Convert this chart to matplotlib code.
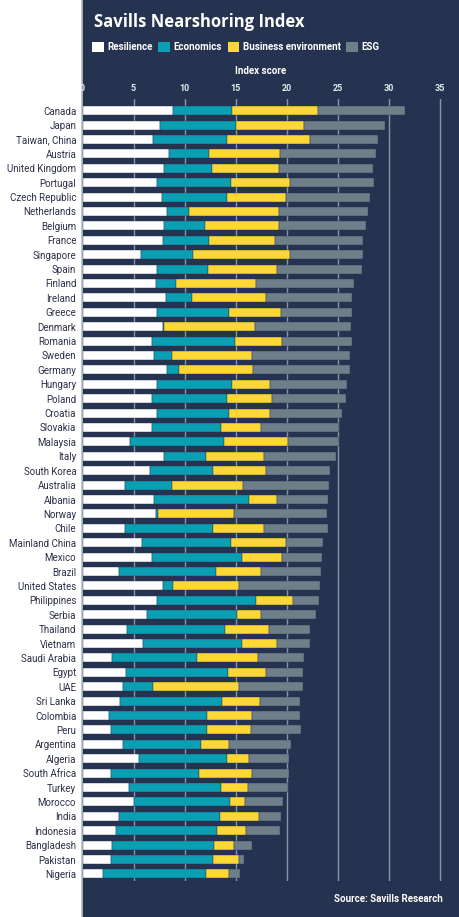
import numpy as np
import matplotlib

matplotlib.use("Agg")
import matplotlib.pyplot as plt
from matplotlib.patches import Patch

plt.rcParams["font.family"] = ["Roboto", "DejaVu Sans"]

countries = [
    "Canada", "Japan", "Taiwan, China", "Austria", "United Kingdom", "Portugal",
    "Czech Republic", "Netherlands", "Belgium", "France", "Singapore", "Spain",
    "Finland", "Ireland", "Greece", "Denmark", "Romania", "Sweden", "Germany",
    "Hungary", "Poland", "Croatia", "Slovakia", "Malaysia", "Italy", "South Korea",
    "Australia", "Albania", "Norway", "Chile", "Mainland China", "Mexico", "Brazil",
    "United States", "Philippines", "Serbia", "Thailand", "Vietnam", "Saudi Arabia",
    "Egypt", "UAE", "Sri Lanka", "Colombia", "Peru", "Argentina", "Algeria",
    "South Africa", "Turkey", "Morocco", "India", "Indonesia", "Bangladesh",
    "Pakistan", "Nigeria",
]

resilience = [
    8.9, 7.6, 6.9, 8.5, 8.0, 7.3, 7.75, 8.3, 8.0, 7.9, 5.7, 7.3,
    7.2, 8.2, 7.3, 7.9, 6.8, 7.05, 8.3, 7.3, 6.8, 7.3, 6.8, 4.7,
    8.0, 6.6, 4.2, 7.05, 7.25, 4.2, 5.85, 6.8, 3.6, 7.9, 7.3, 6.35,
    4.4, 5.95, 2.9, 4.3, 4.0, 3.7, 2.6, 2.8, 4.0, 5.55, 2.8, 4.6,
    5.0, 3.6, 3.3, 2.9, 2.8, 2.05,
]
economics = [
    5.8, 7.4, 7.25, 3.9, 4.7, 7.3, 6.4, 2.1, 4.05, 4.45, 5.1, 5.0,
    2.0, 2.5, 7.1, 0.05, 8.1, 1.7, 1.15, 7.4, 7.4, 7.1, 6.8, 9.2,
    4.1, 6.15, 4.6, 9.3, 0.15, 8.6, 8.7, 8.85, 9.5, 1.0, 9.75, 8.75,
    9.6, 9.7, 8.35, 10.0, 2.9, 10.0, 9.6, 9.45, 7.65, 8.6, 8.6, 9.0,
    9.45, 9.85, 9.9, 10.0, 10.0, 10.05,
]
business = [
    8.4, 6.7, 8.15, 7.0, 6.6, 5.7, 5.8, 8.9, 7.2, 6.5, 9.55, 6.8,
    7.85, 7.3, 5.1, 9.0, 4.7, 7.9, 7.3, 3.7, 4.4, 4.0, 3.85, 6.2,
    5.65, 5.25, 6.9, 2.75, 7.45, 5.0, 5.4, 3.9, 4.4, 6.45, 3.6, 2.35,
    4.3, 3.45, 5.95, 3.7, 8.45, 3.7, 4.4, 4.3, 2.75, 2.15, 5.25, 2.65,
    1.5, 3.85, 2.85, 1.95, 2.5, 2.3,
]
esg = [
    8.5, 7.9, 6.7, 9.35, 9.2, 8.3, 8.2, 8.7, 8.5, 8.6, 7.1, 8.3,
    9.6, 8.45, 6.9, 9.4, 6.8, 9.6, 9.45, 7.5, 7.2, 7.05, 7.65, 5.0,
    7.05, 6.25, 8.45, 5.0, 9.15, 6.25, 3.6, 3.9, 5.85, 7.95, 2.5, 5.4,
    4.0, 3.2, 4.55, 3.6, 6.3, 3.9, 4.7, 4.85, 6.0, 3.9, 3.6, 3.85,
    3.7, 2.2, 3.35, 1.8, 0.55, 1.0,
]

series = {
    "Resilience": resilience,
    "Economics": economics,
    "Business environment": business,
    "ESG": esg,
}
colors = ["#ffffff", "#0b9fb4", "#fdd835", "#6e7f89"]
navy = "#253350"
W, H = 459, 917

fig = plt.figure(figsize=(W / 100, H / 100), dpi=100, facecolor="white")

# navy panel right of the country labels, drawn underneath the chart axes
panel = fig.add_axes([82 / W, 0, 1 - 82 / W, 1], zorder=-1)
panel.set_facecolor(navy)
panel.set_xticks([])
panel.set_yticks([])
for side, spine in panel.spines.items():
    spine.set_visible(side == "left")
panel.spines["left"].set_color("#b9c0ca")
panel.spines["left"].set_linewidth(1.2)

ax = fig.add_axes([82.5 / W, 1 - 881 / H, 1 - 82.5 / W, (881 - 99) / H])
ax.set_facecolor("none")

y = np.arange(len(countries))
left = np.zeros(len(countries))
for (name, values), color in zip(series.items(), colors):
    values = np.asarray(values, dtype=float)
    ax.barh(y, values, left=left, height=0.63, color=color, edgecolor=navy,
            linewidth=0.3, label=name, zorder=2)
    left += values

ax.set_xlim(0, 36.9)
ax.set_ylim(len(countries) - 1 + 0.49, -0.81)
ax.set_xticks(np.arange(0, 36, 5))
ax.xaxis.tick_top()
ax.tick_params(axis="x", length=0, pad=4, labelsize=6.5, labelcolor="#e6e9ee")
for label in ax.get_xticklabels():
    label.set_fontweight("bold")
ax.set_yticks(y)
ax.set_yticklabels(countries)
ax.tick_params(axis="y", length=0, pad=4.5, labelsize=7, labelcolor="#2b3048")
for xv in np.arange(5, 36, 5):
    ax.axvline(xv, color="#8a95a6", linewidth=1, zorder=1)
for spine in ax.spines.values():
    spine.set_visible(False)

fig.text(94 / W, 1 - 22 / H, "Savills Nearshoring Index", color="white",
         fontsize=12, fontweight="bold", family=["Open Sans", "DejaVu Sans"],
         va="center", ha="left")

handles = [Patch(facecolor=c, edgecolor="none") for c in colors]
fig.legend(handles, list(series.keys()), loc="center left",
           bbox_to_anchor=(92 / W, 1 - 47 / H), ncol=4, frameon=False,
           handlelength=1.2, handleheight=1.2, handletextpad=0.35,
           columnspacing=0.6, borderaxespad=0, borderpad=0,
           prop={"size": 7, "weight": "bold"}, labelcolor="white")

fig.text(261 / W, 1 - 71 / H, "Index score", color="white", fontsize=7,
         fontweight="bold", ha="center", va="center")
fig.text(443 / W, 1 - 899 / H, "Source: Savills Research", color="white",
         fontsize=7, fontweight="bold", ha="right", va="center")

fig.savefig("out.png", dpi=100, facecolor=fig.get_facecolor())
